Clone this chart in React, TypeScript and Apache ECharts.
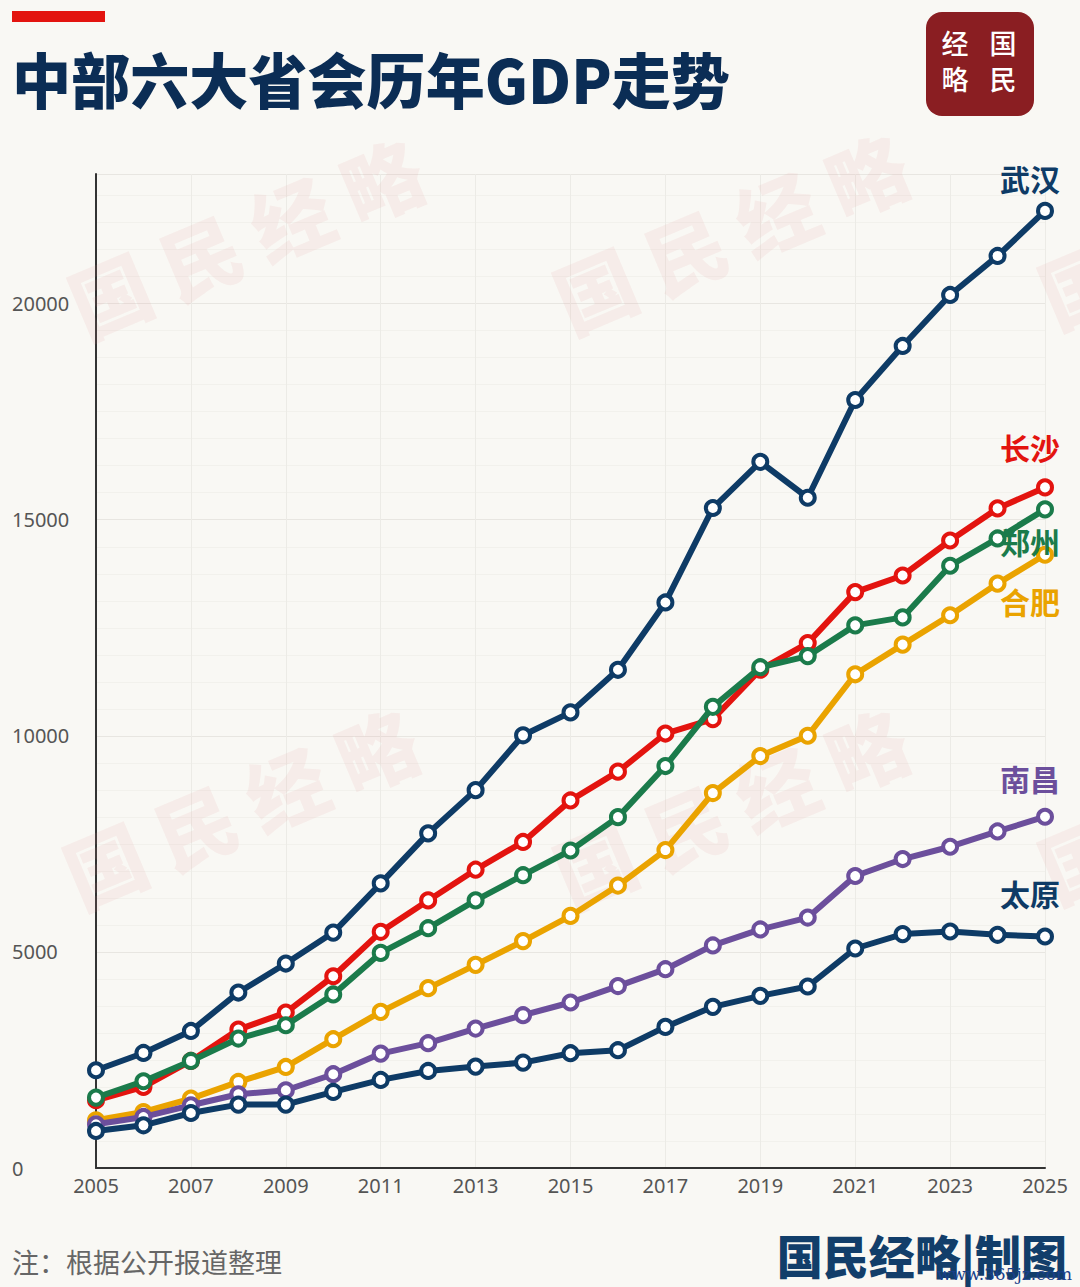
import React, { useEffect, useRef } from 'react';
import * as echarts from 'echarts';

const years = ['2005','2006','2007','2008','2009','2010','2011','2012','2013','2014','2015','2016','2017','2018','2019','2020','2021','2022','2023','2024','2025'];
const yTicks = [0, 5000, 10000, 15000, 20000];

const wuhan = [2262, 2662, 3171, 4060, 4731, 5447, 6586, 7743, 8743, 10012, 10542, 11528, 13086, 15271, 16340, 15509, 17771, 19021, 20201, 21104, 22146];
const changsha = [1567, 1875, 2477, 3203, 3597, 4437, 5465, 6192, 6903, 7544, 8505, 9171, 10053, 10387, 11530, 12146, 13326, 13710, 14520, 15262, 15748];
const zhengzhou = [1629, 2007, 2477, 2995, 3303, 4016, 4977, 5549, 6192, 6775, 7347, 8118, 9301, 10671, 11588, 11845, 12556, 12740, 13935, 14567, 15240];
const hefei = [1104, 1296, 1605, 1991, 2338, 2980, 3613, 4162, 4701, 5250, 5833, 6535, 7357, 8676, 9532, 10002, 11424, 12110, 12790, 13522, 14190];
const nanchang = [1011, 1181, 1451, 1706, 1799, 2170, 2647, 2888, 3226, 3536, 3830, 4210, 4600, 5150, 5520, 5795, 6757, 7149, 7434, 7788, 8128];
const taiyuan = [857, 988, 1273, 1467, 1467, 1760, 2038, 2246, 2346, 2439, 2656, 2726, 3265, 3729, 3983, 4199, 5079, 5412, 5473, 5396, 5357];

const NAVY = '#0e3b66';
const RED = '#e3140f';
const GREEN = '#1b7b4b';
const GOLD = '#eaa300';
const PURPLE = '#6c4f9c';

const CJK = '"Noto Sans CJK SC", "Noto Sans", sans-serif';

const cities = [
  { name: '长沙', data: changsha, color: RED, labelY: 447 },
  { name: '郑州', data: zhengzhou, color: GREEN, labelY: 541 },
  { name: '合肥', data: hefei, color: GOLD, labelY: 601 },
  { name: '南昌', data: nanchang, color: PURPLE, labelY: 778 },
  { name: '太原', data: taiyuan, color: NAVY, labelY: 893 },
  { name: '武汉', data: wuhan, color: NAVY, labelY: 178 },
];

const watermarkCenters = [
  [245, 235], [730, 230], [1215, 225],
  [240, 805], [730, 805], [1215, 800],
];

export default function App() {
  const ref = useRef<HTMLDivElement>(null);
  useEffect(() => {
    document.body.style.margin = '0';
    document.body.style.background = '#f9f8f4';
    const chart = echarts.init(ref.current as HTMLDivElement, null, { renderer: 'svg' });

    const series = cities.map((c, i) => ({
      name: c.name,
      type: 'line',
      data: c.data,
      symbol: 'circle',
      symbolSize: 14,
      showSymbol: true,
      z: 3 + i,
      lineStyle: { width: 6, color: c.color },
      itemStyle: { color: '#ffffff', borderColor: c.color, borderWidth: 4 },
      emphasis: { disabled: true },
    }));

    const graphic: any[] = [];
    watermarkCenters.forEach(([x, y]) => {
      graphic.push({
        type: 'text', x, y, rotation: 0.4, z: 1, silent: true,
        style: {
          text: '国 民 经 略', fontSize: 80, fontWeight: 900, fontFamily: CJK,
          fill: 'rgba(226,150,150,0.11)', textAlign: 'center', textVerticalAlign: 'middle',
        },
      });
    });
    graphic.push({ type: 'rect', shape: { x: 12, y: 11, width: 93, height: 11 }, style: { fill: '#e3140f' }, z: 50 });
    graphic.push({
      type: 'text', x: 12, y: 78, scaleX: 0.985, z: 50,
      style: { text: '中部六大省会历年GDP走势', fontSize: 60, fontWeight: 900, fontFamily: CJK, fill: '#0b2d55', textAlign: 'left', textVerticalAlign: 'middle' },
    });
    graphic.push({ type: 'rect', shape: { x: 926, y: 12, width: 108, height: 104, r: 16 }, style: { fill: '#8a1e22' }, z: 50 });
    [['经', 955, 42], ['国', 1003, 42], ['略', 955, 78], ['民', 1003, 78]].forEach(([t, x, y]) => {
      graphic.push({
        type: 'text', x, y, z: 51,
        style: { text: t, fontSize: 27, fontWeight: 500, fontFamily: CJK, fill: '#ffffff', textAlign: 'center', textVerticalAlign: 'middle' },
      });
    });
    cities.forEach((c) => {
      graphic.push({
        type: 'text', x: 1060, y: c.labelY, z: 100,
        style: { text: c.name, fontSize: 30, fontWeight: 'bold', fontFamily: CJK, fill: c.color, textAlign: 'right', textVerticalAlign: 'middle' },
      });
    });
    graphic.push({
      type: 'text', x: 12, y: 1261, z: 50,
      style: { text: '注：根据公开报道整理', fontSize: 27, fontFamily: CJK, fill: '#666666', textAlign: 'left', textVerticalAlign: 'middle' },
    });
    graphic.push({
      type: 'text', x: 1067, y: 1254, z: 50,
      style: { text: '国民经略|制图', fontSize: 46, fontWeight: 900, fontFamily: CJK, fill: '#123e6a', textAlign: 'right', textVerticalAlign: 'middle' },
    });
    graphic.push({
      type: 'text', x: 1072, y: 1274, z: 51,
      style: { text: 'www.365jz.com', fontSize: 17, fontFamily: '"DejaVu Serif", serif', fill: '#1a3f8a', textAlign: 'right', textVerticalAlign: 'middle' },
    });

    chart.setOption({
      animation: false,
      backgroundColor: '#f9f8f4',
      grid: { left: 96, right: 35, top: 174, bottom: 119, containLabel: false },
      xAxis: {
        type: 'category',
        data: years,
        boundaryGap: false,
        axisLine: { show: true, lineStyle: { color: '#333333', width: 2 } },
        axisTick: { show: false },
        axisLabel: { interval: 1, margin: 7, fontSize: 20, color: '#555555', fontFamily: '"Noto Sans", sans-serif' },
        splitLine: { show: true, interval: 1, lineStyle: { color: '#ecebe6', width: 1 } },
      },
      yAxis: {
        type: 'value',
        min: 0,
        max: 23000,
        interval: 5000,
        axisLine: { show: true, lineStyle: { color: '#333333', width: 2 } },
        axisTick: { show: false },
        axisLabel: {
          margin: 84, align: 'left', fontSize: 20, color: '#555555', fontFamily: '"Noto Sans", sans-serif',
          formatter: (v: number) => (yTicks.indexOf(v) >= 0 ? String(v) : ''),
        },
        splitLine: { show: true, lineStyle: { color: '#e8e6e1', width: 1 } },
        minorTick: { show: false, splitNumber: 8 },
        minorSplitLine: { show: true, lineStyle: { color: '#f2f1ec', width: 1 } },
      },
      series,
      graphic,
    });
    return () => chart.dispose();
  }, []);
  return <div ref={ref} style={{ width: 1080, height: 1287, background: '#f9f8f4' }} />;
}
